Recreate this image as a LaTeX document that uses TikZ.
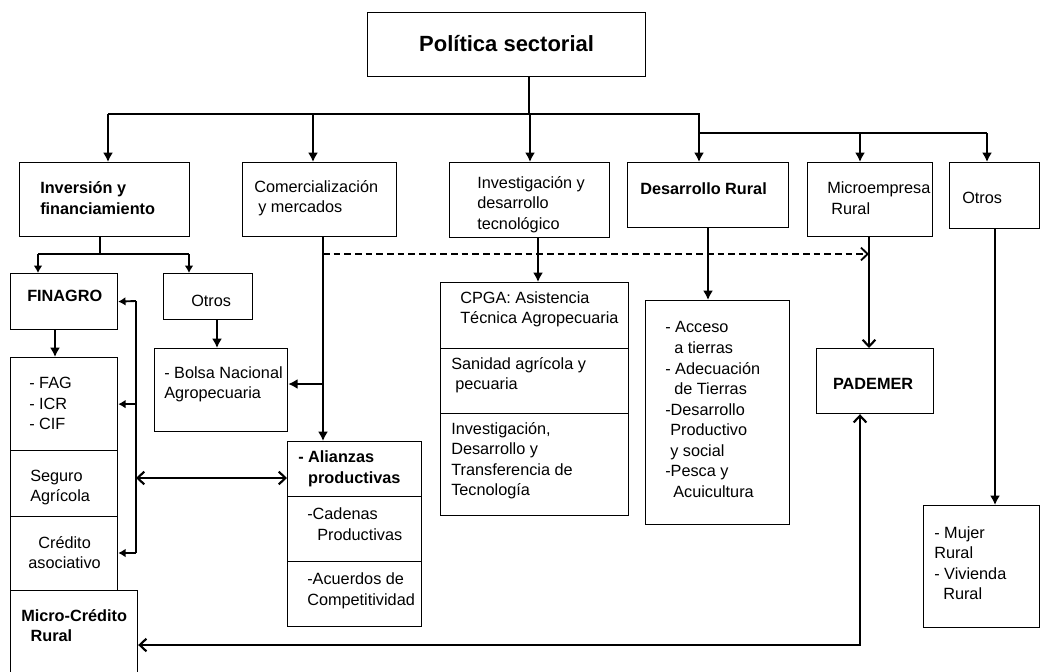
\documentclass[tikz,border=0pt]{standalone}
\usepackage{fontspec}
\setmainfont{Liberation Sans}
\usetikzlibrary{calc}
\usetikzlibrary{arrows.meta}
\tikzset{>=latex}

\begin{document}
\begin{tikzpicture}[x=0.75pt,y=-0.75pt,
    box/.style={draw, line width=0.9pt, inner sep=0pt, anchor=north west},
    sz/.style 2 args={minimum width=#1*0.75pt, minimum height=#2*0.75pt},
    txt/.style={anchor=west, align=left, inner sep=0pt, font=\fontsize{12.2}{15.4}\selectfont},
    btxt/.style={txt, font=\fontsize{12.2}{15.4}\selectfont\bfseries},
    link/.style={line width=0.9pt},
    arr/.style={line width=1.9pt, -{Latex[length=7pt,width=7.5pt]}},
    arrb/.style={line width=1.4pt, -{Latex[length=5.5pt,width=6.5pt]}},
    opn/.style={line width=1.6pt, -{Straight Barb[length=5pt,width=9.5pt]}},
    dbl/.style={line width=1.6pt, {Straight Barb[length=5pt,width=9.5pt]}-{Straight Barb[length=5pt,width=9.5pt]}},
    dsh/.style={line width=1.4pt, dash pattern=on 5pt off 3pt, -{Straight Barb[length=5pt,width=9.5pt]}}]
    \useasboundingbox (0,0) rectangle (1041,671);
    % top box
    \node[box, sz={278}{64}] (pol) at (367,12) {};
    \node[btxt, anchor=center, font=\fontsize{16.5}{20}\selectfont\bfseries] (tpol) at ($(pol.center)+(0,-1)$) {Política sectorial};
    % second row
    \node[box, sz={170}{74}] (inv) at (19,162) {};
    \node[btxt] (tinv) at ($(inv.west)+(21,-1.5)$) {Inversión y\\financiamiento};
    \node[box, sz={154}{74}] (com) at (242,162) {};
    \node[txt] (tcom) at ($(com.west)+(12,-1.5)$) {Comercialización\\\hspace*{3pt}y mercados};
    \node[box, sz={160}{75}] (ivs) at (449,162) {};
    \node[txt] (tivs) at ($(ivs.west)+(28,4.5)$) {Investigación y\\desarrollo\\tecnológico};
    \node[box, sz={161}{65}] (dr) at (627,162) {};
    \node[btxt] (tdr) at ($(dr.west)+(13,-6.5)$) {Desarrollo Rural};
    \node[box, sz={125}{74}] (mic) at (807,162) {};
    \node[txt] (tmic) at ($(mic.west)+(20,-1.5)$) {Microempresa\\\hspace*{3pt}Rural};
    \node[box, sz={90}{66}] (otr) at (949,162) {};
    \node[txt] (totr) at ($(otr.west)+(13,2)$) {Otros};
    % inversion y financiamiento
    \node[box, sz={107}{56}] (fin) at (10,273) {};
    \node[btxt] (tfin) at ($(fin.west)+(17,-6)$) {FINAGRO};
    \node[box, sz={89}{46}] (otb) at (163,273) {};
    \node[txt] (totb) at ($(otb.west)+(28,4)$) {Otros};
    \node[box, sz={133}{83}] (bol) at (154,348) {};
    \node[txt] (tbol) at ($(bol.west)+(10,-6)$) {- Bolsa Nacional\\Agropecuaria};
    \node[box, sz={107}{93}] (fag) at (10,357) {};
    \node[txt] (tfag) at ($(fag.west)+(19,-0.5)$) {- FAG\\- ICR\\- CIF};
    \node[box, sz={107}{66}] (seg) at (10,450) {};
    \node[txt] (tseg) at ($(seg.west)+(20,4)$) {Seguro\\Agrícola};
    \node[box, sz={107}{74}] (cred) at (10,516) {};
    \node[txt, anchor=center, align=center] (tcred) at ($(cred.center)+(0.5,-1)$) {Crédito\\asociativo};
    \node[box, sz={127}{90}] (mcr) at (10,590) {};
    \node[btxt] (tmcr) at ($(mcr.north west)+(11,35.5)$) {Micro-Crédito\\\hspace*{7pt}Rural};
    % alianzas
    \node[box, sz={134}{55}] (ali) at (287,441) {};
    \node[btxt] (tali) at ($(ali.west)+(11,-0.5)$) {- Alianzas\\\phantom{- }productivas};
    \node[box, sz={134}{65}] (cad) at (287,496) {};
    \node[txt] (tcad) at ($(cad.west)+(20,-5)$) {-Cadenas\\\hspace*{7.5pt}Productivas};
    \node[box, sz={134}{65}] (acu) at (287,561) {};
    \node[txt] (tacu) at ($(acu.west)+(20,-3.5)$) {-Acuerdos de\\Competitividad};
    % investigacion
    \node[box, sz={188}{66}] (cpga) at (440,282) {};
    \node[txt] (tcpga) at ($(cpga.west)+(20,-6.5)$) {CPGA: Asistencia\\Técnica Agropecuaria};
    \node[box, sz={188}{65}] (san) at (440,348) {};
    \node[txt] (tsan) at ($(san.west)+(11,-6)$) {Sanidad agrícola y\\\hspace*{3pt}pecuaria};
    \node[box, sz={188}{102}] (idt) at (440,413) {};
    \node[txt] (tidt) at ($(idt.west)+(11,-4)$) {Investigación,\\Desarrollo y\\Transferencia de\\Tecnología};
    % desarrollo rural
    \node[box, sz={144}{224}] (drl) at (645,300) {};
    \node[txt] (tdrl) at ($(drl.west)+(20,-3)$) {- Acceso\\\hspace*{6.75pt}a tierras\\- Adecuación\\\hspace*{6.75pt}de Tierras\\-Desarrollo\\\hspace*{3.75pt}Productivo\\\hspace*{3.75pt}y social\\-Pesca y\\\hspace*{6pt}Acuicultura};
    \node[box, sz={117}{65}] (pad) at (816,348) {};
    \node[btxt, anchor=center] (tpad) at ($(pad.center)+(-2,2.5)$) {PADEMER};
    \node[box, sz={116}{122}] (muj) at (923,505) {};
    \node[txt] (tmuj) at ($(muj.west)+(11,-3.5)$) {- Mujer\\Rural\\- Vivienda\\\hspace*{6.75pt}Rural};
    % top connectors
    \coordinate (j0) at (529,114);
    \coordinate (b1) at (108,114);
    \coordinate (b2) at (313,114);
    \coordinate (b3) at (530,114);
    \coordinate (b4) at (699,114);
    \coordinate (c1) at (699,133);
    \coordinate (c2) at (860,133);
    \coordinate (c3) at (987,133);
    \draw[link] (pol.south -| j0) -- (j0);
    \draw[link] (b1) -- (b4) -- (c1) -- (c3);
    \draw[arr] (b1) -- (b1 |- inv.north);
    \draw[arr] (b2) -- (b2 |- com.north);
    \draw[arr] (b3) -- (b3 |- ivs.north);
    \draw[arr] (b4) -- (b4 |- dr.north);
    \draw[arr] (c2) -- (c2 |- mic.north);
    \draw[arr] (c3) -- (c3 |- otr.north);
    % inversion branch
    \coordinate (d0) at (100,254);
    \coordinate (d1) at (38,254);
    \coordinate (d2) at (189,254);
    \draw[link] (inv.south -| d0) -- (d0);
    \draw[link] (d1) -- (d2);
    \draw[arrb] (d1) -- (d1 |- fin.north);
    \draw[arrb] (d2) -- (d2 |- otb.north);
    \coordinate (e1) at (55,0);
    \draw[arr] (fin.south -| e1) -- (fag.north -| e1);
    \coordinate (e2) at (217,0);
    \draw[arr] (otb.south -| e2) -- (bol.north -| e2);
    % left bus
    \coordinate (v1) at (136,301);
    \coordinate (v2) at (136,553);
    \coordinate (v3) at (136,478);
    \draw[link] (v1) -- (v2);
    \draw[arrb] (v1) -- (fin.east);
    \draw[arrb] (v1 |- fag.east) -- (fag.east);
    \draw[arrb] (v2) -- (v2 -| cred.east);
    \draw[dbl] (v3) -- (v3 -| ali.west);
    % comercializacion branch
    \coordinate (k0) at (323,0);
    \coordinate (k1) at (323,384);
    \coordinate (k2) at (323,254);
    \coordinate (m0) at (869,254);
    \draw[arr] (com.south -| k0) -- (ali.north -| k0);
    \draw[arr] (k1) -- (k1 -| bol.east);
    \draw[dsh] (k2) -- (m0);
    % other branches
    \coordinate (r1) at (538,0);
    \coordinate (r2) at (708,0);
    \coordinate (r3) at (995,0);
    \draw[arr] (ivs.south -| r1) -- (cpga.north -| r1);
    \draw[arr] (dr.south -| r2) -- (drl.north -| r2);
    \draw[arr] (otr.south -| r3) -- (muj.north -| r3);
    \draw[opn] (mic.south -| m0) -- (pad.north -| m0);
    \coordinate (w0) at (860,645);
    \draw[dbl] (pad.south -| w0) -- (w0) -- (w0 -| mcr.east);
\end{tikzpicture}
\end{document}
